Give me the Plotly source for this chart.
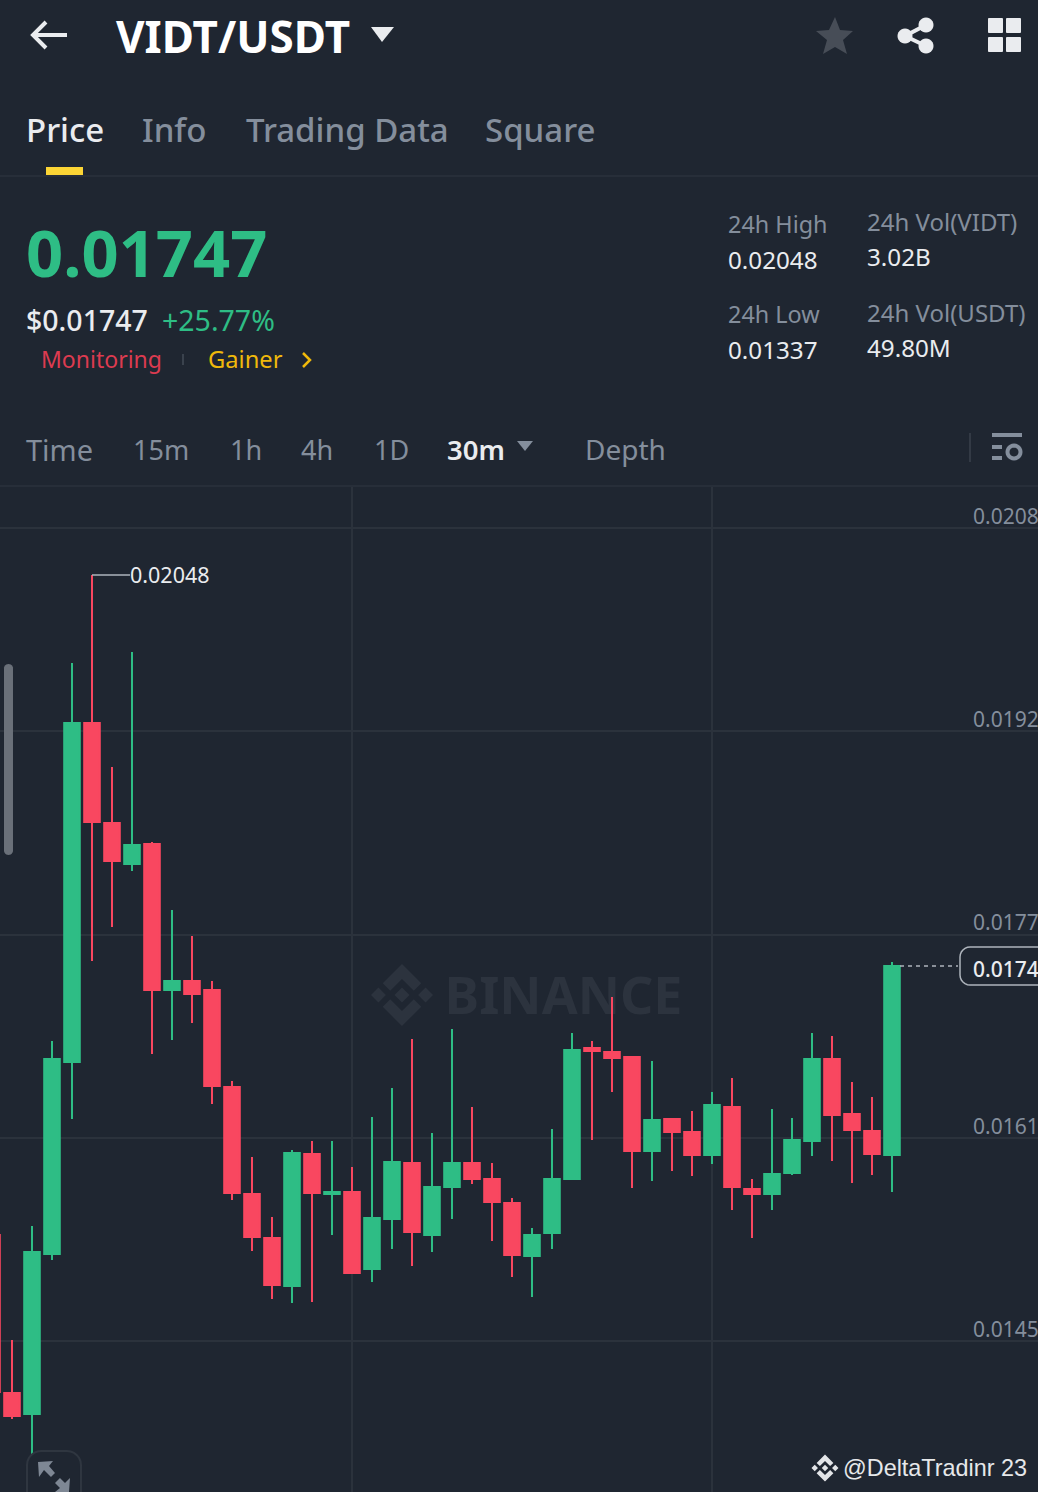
import plotly.graph_objects as go

# ---------- data ----------
candle_index = list(range(-1, 45))
open_prices = [0.015399, 0.014183, 0.014021, 0.015253, 0.016731, 0.019341, 0.018571, 0.018255, 0.018409, 0.017285,
               0.017355, 0.017285, 0.016539, 0.015715, 0.015376, 0.015007, 0.016023, 0.015715, 0.015730, 0.015138,
               0.015522, 0.015954, 0.015399, 0.015769, 0.015954, 0.015830, 0.015646, 0.015238, 0.015415, 0.015830,
               0.016839, 0.016808, 0.016770, 0.016046, 0.016292, 0.016192, 0.016015, 0.016385, 0.015753, 0.015715,
               0.015877, 0.016123, 0.016754, 0.016331, 0.016200, 0.016015]
high_prices = [0.015399, 0.014591, 0.015469, 0.016893, 0.019803, 0.020480, 0.019002, 0.019887, 0.018425, 0.017901,
               0.017701, 0.017355, 0.016585, 0.016000, 0.015538, 0.016054, 0.016123, 0.016123, 0.015923, 0.016308,
               0.016531, 0.016908, 0.016184, 0.016985, 0.016385, 0.015954, 0.015684, 0.015453, 0.016215, 0.016954,
               0.016893, 0.017231, 0.016777, 0.016739, 0.016292, 0.016354, 0.016500, 0.016608, 0.015830, 0.016369,
               0.016300, 0.016954, 0.016931, 0.016577, 0.016462, 0.017501]
low_prices = [0.014191, 0.013983, 0.013370, 0.015207, 0.016292, 0.017509, 0.017770, 0.018201, 0.016793, 0.016900,
              0.017031, 0.016408, 0.015669, 0.015276, 0.014907, 0.014876, 0.014884, 0.015399, 0.015107, 0.015038,
              0.015292, 0.015161, 0.015268, 0.015522, 0.015792, 0.015353, 0.015076, 0.014922, 0.015292, 0.015830,
              0.016131, 0.016500, 0.015761, 0.015815, 0.015892, 0.015854, 0.015946, 0.015592, 0.015376, 0.015592,
              0.015861, 0.016007, 0.015969, 0.015800, 0.015861, 0.015730]
close_prices = [0.014191, 0.014006, 0.015268, 0.016754, 0.019341, 0.018579, 0.018278, 0.018402, 0.017285, 0.017355,
                0.017255, 0.016546, 0.015723, 0.015384, 0.015014, 0.016031, 0.015723, 0.015730, 0.015107, 0.015530,
                0.015961, 0.015422, 0.015769, 0.015954, 0.015830, 0.015653, 0.015245, 0.015399, 0.015830, 0.016823,
                0.016816, 0.016762, 0.016046, 0.016285, 0.016192, 0.016015, 0.016400, 0.015769, 0.015715, 0.015869,
                0.016131, 0.016754, 0.016323, 0.016208, 0.016023, 0.017470]
y_ticks = [0.02084, 0.019275, 0.01771, 0.016145, 0.01458]
y_tick_labels = ["0.0208", "0.0192", "0.0177", "0.0161", "0.0145"]
x_grid = [17, 35]
last_price = 0.01747
high_price = 0.02048

# ---------- style ----------
W, H = 1038, 1492
BG = "#1F2631"
GRID = "#2B323C"
GREEN = "#2EBD85"
RED = "#F94760"
GREY = "#848E9C"
LIGHT = "#EAECEF"
FONT = "Noto Sans"


def px(x):
    return x / W


def py(y):
    return 1 - y / H


def poly(points, close=True):
    s = "M " + " L ".join(f"{px(x):.5f} {py(y):.5f}" for x, y in points)
    return s + (" Z" if close else "")


def path_shape(path, fill=None, line=None, width=0, layer="above"):
    d = dict(type="path", xref="paper", yref="paper", path=path, layer=layer,
             line=dict(color=line or "rgba(0,0,0,0)", width=width))
    if fill:
        d["fillcolor"] = fill
    return d


def rrect(x0, y0, x1, y1, r):
    n = 6
    pts = []
    import math
    corners = [(x1 - r, y0 + r, -90), (x1 - r, y1 - r, 0), (x0 + r, y1 - r, 90), (x0 + r, y0 + r, 180)]
    for cx, cy, a in corners:
        for k in range(n + 1):
            t = math.radians(a + 90 * k / n)
            pts.append((cx + r * math.cos(t), cy + r * math.sin(t)))
    return poly(pts)


def circle(cx, cy, r):
    return rrect(cx - r, cy - r, cx + r, cy + r, r)


def logo(cx, cy, s):
    parts = [
        [(0, -.24), (.24, 0), (0, .24), (-.24, 0)],
        [(-1, 0), (-.76, -.24), (-.52, 0), (-.76, .24)],
        [(1, 0), (.76, -.24), (.52, 0), (.76, .24)],
        [(0, -1), (.62, -.38), (.38, -.14), (0, -.52), (-.38, -.14), (-.62, -.38)],
        [(0, 1), (.62, .38), (.38, .14), (0, .52), (-.38, .14), (-.62, .38)],
    ]
    return " ".join(poly([(cx + a * s, cy + b * s) for a, b in p]) for p in parts)


def label(text, x, y, size, color=GREY, weight=400, anchor="left", family=FONT):
    return dict(text=text, x=px(x), y=py(y), xref="paper", yref="paper", showarrow=False,
                xanchor=anchor, yanchor="middle", borderpad=0,
                font=dict(family=family, size=size, color=color, weight=weight))


shapes = [
    # dividers
    dict(type="line", xref="paper", yref="paper", x0=0, x1=1, y0=py(176), y1=py(176), line=dict(color=GRID, width=1.5)),
    dict(type="line", xref="paper", yref="paper", x0=0, x1=1, y0=py(486), y1=py(486), line=dict(color=GRID, width=1.5)),
    dict(type="rect", xref="paper", yref="paper", x0=px(46), x1=px(83), y0=py(175), y1=py(167),
         fillcolor="#FCD535", line=dict(width=0)),
    # watermark, behind the candles
    path_shape(logo(402, 995, 31), fill="#2C333E", layer="below"),
    dict(type="rect", xref="paper", yref="paper", x0=px(445), x1=px(682), y0=py(1017), y1=py(977), layer="below",
         line=dict(width=0), label=dict(text="BINANCE", textposition="middle center",
                                        font=dict(family=FONT, size=52, color="#2C333E", weight=700))),
    # back arrow
    path_shape(poly([(67, 35), (34, 35)], close=False), line=LIGHT, width=4),
    path_shape(poly([(46, 22), (33, 35), (46, 48)], close=False), line=LIGHT, width=4),
    # title caret
    path_shape(poly([(371, 27), (394, 27), (382, 42)]), fill=LIGHT),
    # star
    path_shape(poly([(835, 17), (840, 30), (853, 31), (843, 40), (847, 54), (835, 47), (823, 54), (827, 40), (816, 31), (829, 30)]),
               fill="#474D57"),
    # share
    path_shape(circle(926, 25, 7.5), fill=LIGHT),
    path_shape(circle(905, 36, 7.5), fill=LIGHT),
    path_shape(circle(926, 46, 7.5), fill=LIGHT),
    path_shape(poly([(926, 25), (905, 36), (926, 46)], close=False), line=LIGHT, width=4),
    # grid icon
    path_shape(rrect(988, 18, 1003, 33, 1), fill=LIGHT),
    path_shape(rrect(1006, 18, 1021, 33, 1), fill=LIGHT),
    path_shape(rrect(988, 37, 1003, 52, 1), fill=LIGHT),
    path_shape(rrect(1006, 37, 1021, 52, 1), fill=LIGHT),
    # monitoring row
    path_shape(poly([(183, 354), (183, 365)], close=False), line="#3A424D", width=2),
    path_shape(poly([(303, 353), (310, 360), (303, 367)], close=False), line="#F0B90B", width=2.5),
    # interval bar
    path_shape(poly([(517, 441), (533, 441), (525, 451)]), fill=GREY),
    path_shape(poly([(970, 433), (970, 462)], close=False), line="#333A45", width=2),
    path_shape(poly([(992, 435), (1022, 435)], close=False), line=GREY, width=4),
    path_shape(poly([(992, 447), (1002, 447)], close=False), line=GREY, width=4),
    path_shape(poly([(992, 458), (1002, 458)], close=False), line=GREY, width=4),
    path_shape(circle(1014, 452, 6.5), line=GREY, width=4),
    # scroll thumb
    path_shape(rrect(4, 664, 13, 855, 4.5), fill="#6A7079"),
    # high-price leader
    path_shape(poly([(92, 575), (130, 575)], close=False), line="#AEB4BC", width=1.5),
    # last-price tag
    dict(type="line", xref="paper", yref="y", x0=px(900), x1=px(958), y0=last_price, y1=last_price,
         line=dict(color="#AEB4BC", width=1.5, dash="4px,4px")),
    path_shape(rrect(960, 947, 1060, 985, 10), fill=BG, line="#AEB4BC", width=1.5),
    # expand button
    path_shape(rrect(27, 1451, 81, 1530, 14), fill=BG, line="#2F3640", width=2),
    path_shape(poly([(38, 1462), (53, 1461), (49, 1466), (55, 1473), (51, 1477), (44, 1470), (39, 1477)]), fill="#7E8794"),
    path_shape(poly([(70, 1478), (69, 1492), (55, 1492), (60, 1488), (55, 1483), (60, 1478), (65, 1483)]), fill="#7E8794"),
    # credit logo
    path_shape(logo(825, 1468, 13.5), fill="#E3E5E8"),
]

annotations = [
    label("VIDT/USDT", 115, 36, 44, "#FFFFFF", 700),
    label("Price", 24.5, 129, 33, LIGHT, 500),
    label("Info", 140.5, 129, 33, GREY, 500),
    label("Trading Data", 244.5, 129, 33, GREY, 500),
    label("Square", 483.5, 129, 33, GREY, 500),
    label("0.01747", 25, 252, 65, GREEN, 700),
    label("$0.01747", 24.5, 320, 28.5, LIGHT, 500),
    label("+25.77%", 160.5, 320, 28.5, GREEN, 400),
    label("Monitoring", 39.5, 359, 23, "#DC3B50"),
    label("Gainer", 206.5, 359, 23.7, "#F0B90B"),
    label("24h High", 726.5, 224, 23.4, GREY),
    label("0.02048", 726.5, 259, 24.2, LIGHT),
    label("24h Low", 726.5, 314, 23.4, GREY),
    label("0.01337", 726.5, 349, 24.2, LIGHT),
    label("24h Vol(VIDT)", 865.5, 222, 24, GREY),
    label("3.02B", 865.5, 257, 24.2, LIGHT),
    label("24h Vol(USDT)", 865.5, 312, 24, GREY),
    label("49.80M", 865.5, 347, 24.2, LIGHT),
    label("Time", 24.5, 449, 29, GREY),
    label("15m", 131.5, 449, 27, GREY),
    label("1h", 228.5, 449, 27, GREY),
    label("4h", 299.5, 449, 27, GREY),
    label("1D", 372.5, 449, 27, GREY),
    label("30m", 445.5, 449, 27.5, LIGHT, 600),
    label("Depth", 583.5, 449, 28, GREY),
    label("0.0174", 972, 969.5, 21, LIGHT, 500),
    label("0.01337", 90, 1499, 20, GREY),
    label("@DeltaTradinr 23", 841.5, 1468, 23.4, "#E6E8EA", 400, family="Liberation Sans"),
    dict(text="0.02048", x=px(129), y=high_price, xref="paper", yref="y", showarrow=False, xanchor="left",
         yanchor="middle", borderpad=0, font=dict(family=FONT, size=21.5, color=LIGHT)),
]
for v, t in zip(y_ticks, y_tick_labels):
    annotations.append(dict(text=t, x=px(972), y=v, xref="paper", yref="y", showarrow=False, xanchor="left",
                            yanchor="bottom", yshift=-2.5, borderpad=0, font=dict(family=FONT, size=21, color=GREY)))

fig = go.Figure(go.Candlestick(
    x=candle_index, open=open_prices, high=high_prices, low=low_prices, close=close_prices,
    increasing=dict(line=dict(color=GREEN, width=2), fillcolor=GREEN),
    decreasing=dict(line=dict(color=RED, width=2), fillcolor=RED),
    whiskerwidth=0,
))
fig.update_layout(
    width=W, height=H, margin=dict(l=0, r=0, t=0, b=0), autosize=False,
    paper_bgcolor=BG, plot_bgcolor=BG, showlegend=False, boxgap=0.22, boxgroupgap=0,
    shapes=shapes, annotations=annotations,
    xaxis=dict(range=[-0.6, 51.3], domain=[0, 1], rangeslider=dict(visible=False), tickmode="array", tickvals=x_grid,
               showticklabels=False, showgrid=True, gridcolor=GRID, gridwidth=1.5, zeroline=False, ticks="", showline=False),
    yaxis=dict(range=[0.013421, 0.021157], domain=[0, 1005 / H], tickmode="array", tickvals=y_ticks,
               showticklabels=False, showgrid=True, gridcolor=GRID, gridwidth=1.5, zeroline=False, ticks="", showline=False),
)
fig.write_html("out.html", config=dict(displayModeBar=False),
               post_script="document.body.style.margin='0';document.body.style.overflow='hidden';")
